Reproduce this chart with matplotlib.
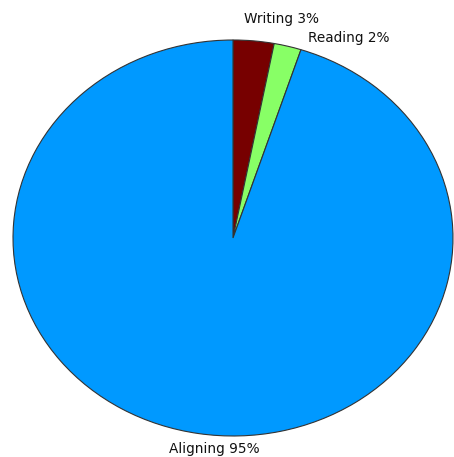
import matplotlib
matplotlib.use("Agg")
import matplotlib.pyplot as plt

labels = ["Writing", "Reading", "Aligning"]
values = [3, 2, 95]
colors = ["#770000", "#88ff66", "#0099ff"]

W, H = 454, 457
fig = plt.figure(figsize=(W / 100, H / 100), dpi=100)
plt.rcParams['font.family'] = ['DejaVu Sans']

# pie box in pixels: x 13..453, y 40..436 (top-down)
x0, x1, y0, y1 = 13, 453, 40, 436
ax = fig.add_axes([x0 / W, 1 - y1 / H, (x1 - x0) / W, (y1 - y0) / H])
ax.pie(values, colors=colors, startangle=90, counterclock=False,
       wedgeprops=dict(edgecolor="#333333", linewidth=0.8))
ax.set_aspect('auto')
ax.set_xlim(-1, 1)
ax.set_ylim(-1, 1)
ax.axis('off')

def px(xp, yp):
    return ((xp - x0) / (x1 - x0) * 2 - 1, 1 - (yp - y0) / (y1 - y0) * 2)

pos = [(282, 19), (349, 38), (214, 449)]
for lab, v, (xp, yp) in zip(labels, values, pos):
    xd, yd = px(xp, yp)
    ax.text(xd, yd, f"{lab} {v}%", ha="center", va="center", fontsize=9.8,
            color="#111111", clip_on=False)

fig.savefig("out.png", dpi=100)
